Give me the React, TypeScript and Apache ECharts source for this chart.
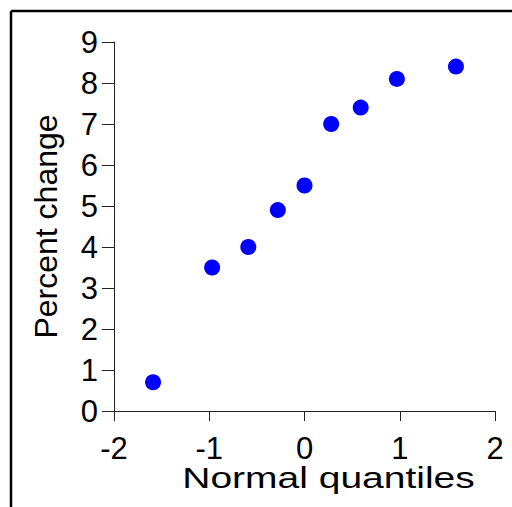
import React, { useEffect, useRef } from "react";
import * as echarts from "echarts";

const quantiles = [-1.59, -0.97, -0.59, -0.28, 0, 0.28, 0.59, 0.97, 1.59];
const percentChange = [0.7, 3.5, 4.0, 4.9, 5.5, 7.0, 7.4, 8.1, 8.4];
const xTitle = "Normal quantiles";
const yTitle = "Percent change";

export default function App() {
  const ref = useRef<HTMLDivElement>(null);
  useEffect(() => {
    if (!ref.current) return;
    const chart = echarts.init(ref.current, null, { renderer: "svg" });
    const font = "'Liberation Sans', Arial, sans-serif";
    chart.setOption({
      animation: false,
      backgroundColor: "#ffffff",
      grid: { left: 114, right: 17, top: 42, bottom: 96, containLabel: false },
      xAxis: {
        type: "value",
        min: -2,
        max: 2,
        interval: 1,
        splitLine: { show: false },
        axisLine: { show: true, onZero: false, lineStyle: { color: "#222", width: 1 } },
        axisTick: { show: true, length: 10, lineStyle: { color: "#222", width: 1 } },
        axisLabel: { fontSize: 31, color: "#000", fontFamily: font, margin: 22 },
      },
      yAxis: {
        type: "value",
        min: 0,
        max: 9,
        interval: 1,
        name: yTitle,
        nameLocation: "middle",
        nameGap: 52,
        nameTextStyle: { fontSize: 32, color: "#000", fontFamily: font },
        splitLine: { show: false },
        axisLine: { show: true, onZero: false, lineStyle: { color: "#222", width: 1 } },
        axisTick: { show: true, length: 12, lineStyle: { color: "#222", width: 1 } },
        axisLabel: { fontSize: 31, color: "#000", fontFamily: font, margin: 16 },
      },
      graphic: [
        { type: "line", shape: { x1: 11, y1: 11, x2: 520, y2: 11 }, style: { stroke: "#000", lineWidth: 2.5 } },
        { type: "line", shape: { x1: 11, y1: 11, x2: 11, y2: 520 }, style: { stroke: "#000", lineWidth: 2.5 } },
        {
          type: "text",
          x: 328.5,
          y: 478,
          scaleX: 1.3,
          style: {
            text: xTitle,
            fontSize: 30,
            fontFamily: font,
            fill: "#000",
            align: "center",
            verticalAlign: "middle",
          },
        },
      ],
      series: [
        {
          type: "scatter",
          data: quantiles.map((q, i) => [q, percentChange[i]]),
          symbol: "circle",
          symbolSize: 16,
          itemStyle: { color: "#0000ff", opacity: 1 },
        },
      ],
    });
    return () => chart.dispose();
  }, []);
  return (
    <div
      ref={ref}
      style={{ position: "absolute", left: 0, top: 0, width: 512, height: 507 }}
    />
  );
}
